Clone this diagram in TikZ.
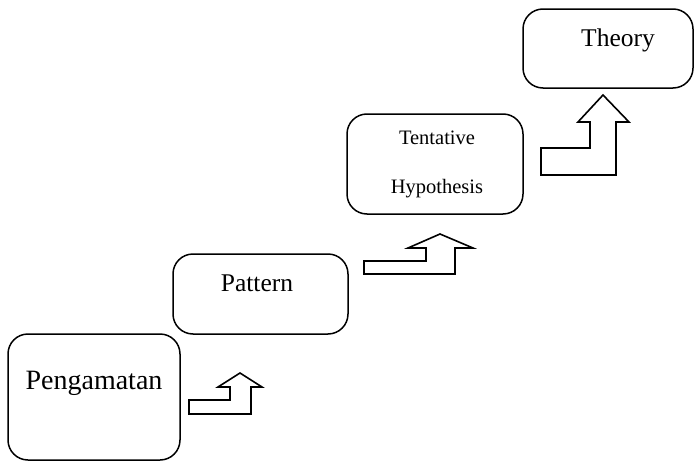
\documentclass[tikz,border=0pt]{standalone}
\usepackage{fontspec}
\setmainfont{Liberation Serif}
\begin{document}
\begin{tikzpicture}[x=1pt, y=-1pt,
    stage/.style={draw, line width=1.5pt, rounded corners=20pt},
    upbend/.style={draw, line width=1.6pt, line join=miter}]
    \useasboundingbox (0,0) rectangle (694,463);

    % Kotak tahapan
    \node[stage, minimum width=172, minimum height=126] (obs) at (94,397) {};
    \node[font=\fontsize{28}{32}\selectfont] (obstext) at (94,383) {Pengamatan};

    \node[stage, minimum width=175, minimum height=80] (pat) at (260.5,294) {};
    \node[font=\fontsize{25.5}{30}\selectfont] (pattext) at (257,283) {Pattern};

    \node[stage, minimum width=176, minimum height=100] (hyp) at (435,164) {};
    \node[font=\fontsize{20.5}{49}\selectfont, align=center] (hyptext) at (437,164.5) {Tentative\\Hypothesis};

    \node[stage, minimum width=170, minimum height=79] (thy) at (608,48.5) {};
    \node[font=\fontsize{25.5}{30}\selectfont] (thytext) at (618,40) {Theory};

    % Panah naik
    \draw[upbend] (189,414) -- (251,414) -- (251,387) -- (262,387) -- (240,373)
        -- (218,387) -- (230,387) -- (230,400) -- (189,400) -- cycle;
    \draw[upbend] (364,274) -- (455,274) -- (455,248) -- (473,248) -- (440,234)
        -- (408,248) -- (426,248) -- (426,261) -- (364,261) -- cycle;
    \draw[upbend] (541,175) -- (616,175) -- (616,122) -- (629,122) -- (603,95)
        -- (578,122) -- (590,122) -- (590,148) -- (541,148) -- cycle;
\end{tikzpicture}
\end{document}
